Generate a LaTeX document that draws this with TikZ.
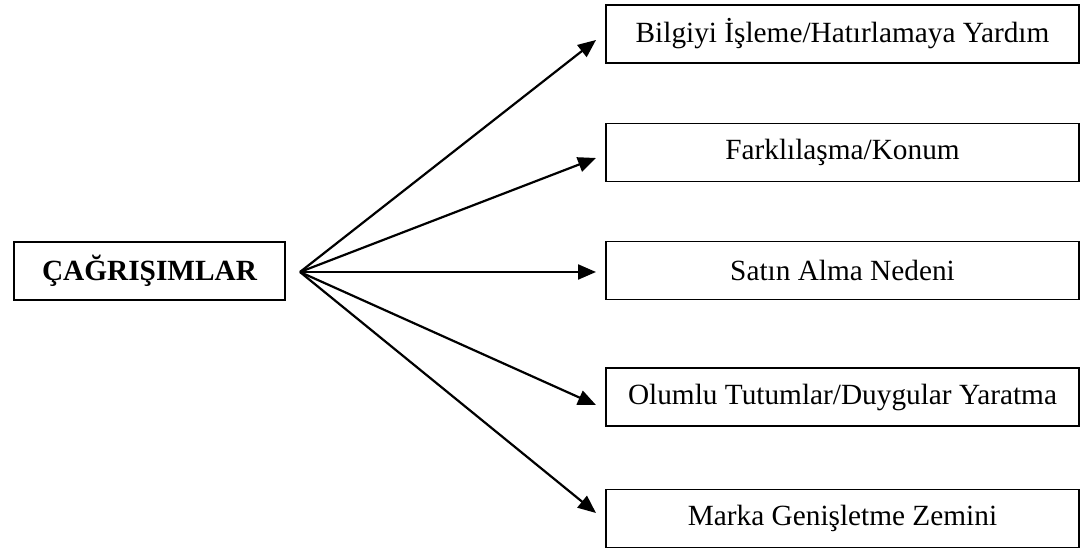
\documentclass[tikz,border=0pt]{standalone}
\usepackage{fontspec}
\setmainfont{Liberation Serif}
\usetikzlibrary{arrows.meta}
\begin{document}
\begin{tikzpicture}[x=1pt,y=-1pt,
  box/.style={draw,line width=1.8pt,rectangle,inner sep=0pt,
    font=\fontsize{29.3}{35}\selectfont},
  rbox/.style={box,minimum width=473pt,minimum height=58pt},
  link/.style={line width=2.2pt,-{Triangle[length=18pt,width=15pt]}}]
\useasboundingbox (0,0) rectangle (1080,548);
% source box
\node[box,minimum width=271pt,minimum height=58pt] (src) at (149.5,271)
  {\bfseries ÇAĞRIŞIMLAR};
% target boxes
\node[rbox] (b1) at (842.5,34) {Bilgiyi İşleme/Hatırlamaya Yardım};
\node[rbox] (b2) at (842.5,152.5) {Farklılaşma/Konum};
\node[rbox] (b3) at (842.5,270.5) {Satın Alma Nedeni};
\node[rbox] (b4) at (842.5,397) {Olumlu Tutumlar/Duygular Yaratma};
\node[rbox] (b5) at (842.5,518.5) {Marka Genişletme Zemini};
% fan of arrows
\coordinate (hub) at (300,272);
\coordinate (t1) at (596,40);
\coordinate (t2) at (596,158);
\coordinate (t3) at (596,272);
\coordinate (t4) at (596,405);
\coordinate (t5) at (596,513);
\foreach \i in {1,...,5} \draw[link] (hub) -- (t\i);
\end{tikzpicture}
\end{document}
